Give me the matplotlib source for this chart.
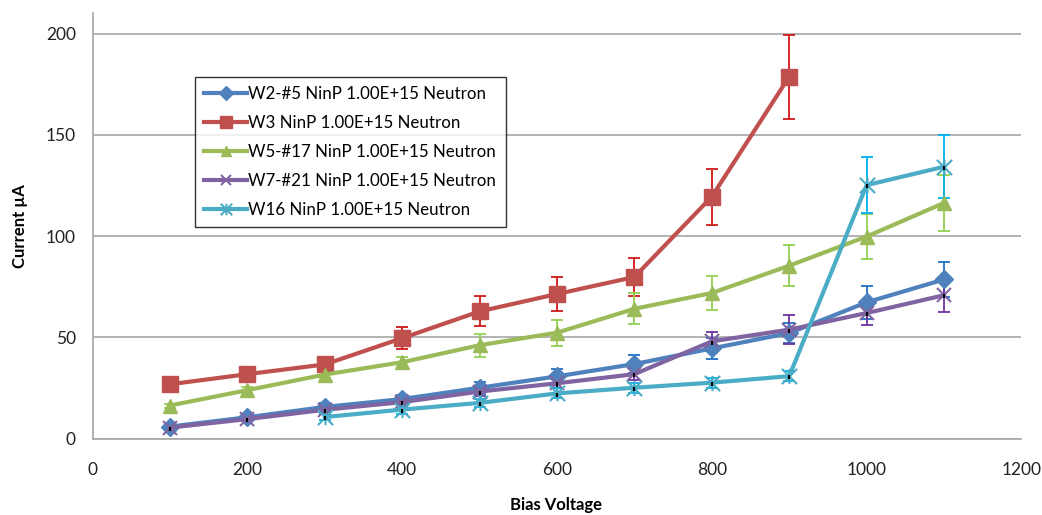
import matplotlib
matplotlib.use('Agg')
import matplotlib.pyplot as plt
import numpy as np
from matplotlib.path import Path

plt.rcParams['font.family'] = ['Lato', 'DejaVu Sans']

voltage = [100, 200, 300, 400, 500, 600, 700, 800, 900, 1000, 1100]

w2 = [5.9, 10.5, 15.6, 19.5, 25.1, 30.7, 36.8, 44.5, 52.1, 67.3, 78.6]
w2_err = [1, 1.5, 2, 2, 3, 3.5, 4.5, 5, 5, 8.2, 8.7]

w3 = [26.8, 31.8, 36.6, 49.6, 62.8, 71.4, 79.8, 119.5, 178.8, np.nan, np.nan]
w3_err = [1, 1.5, 2, 5.5, 7.4, 8.3, 9.3, 13.8, 20.8, np.nan, np.nan]

w5 = [16.3, 23.9, 31.6, 37.7, 46.1, 52.3, 64.1, 71.9, 85.4, 99.8, 116.4]
w5_err = [1, 1.5, 1.5, 2.5, 5.6, 6.4, 7.6, 8.5, 10, 11, 14]

w7 = [5.4, 9.6, 14.2, 18.0, 23.2, 27.3, 31.8, 48.0, 53.8, 62.0, 70.8]
w7_err = [1, 1, 1.5, 1.5, 2, 2.5, 3, 4.6, 7, 6, 8.4]

w16 = [np.nan, np.nan, 10.6, 14.3, 17.6, 22.3, 25.1, 27.6, 30.8, 125.2, 134.3]
w16_err = [np.nan, np.nan, 1.5, 2, 2, 2.5, 2.5, 2.5, 2.5, 14, 15.6]

labels = ['W2-#5 NinP 1.00E+15 Neutron',
          'W3 NinP 1.00E+15 Neutron',
          'W5-#17 NinP 1.00E+15 Neutron',
          'W7-#21 NinP 1.00E+15 Neutron',
          'W16 NinP 1.00E+15 Neutron']

# excel style asterisk: X plus vertical bar
star = Path([(0, -1), (0, 1), (-1, -1), (1, 1), (-1, 1), (1, -1)],
            [Path.MOVETO, Path.LINETO, Path.MOVETO, Path.LINETO, Path.MOVETO, Path.LINETO])

series = [
    (w2, w2_err, '#4F81BD', '#1F6FC6', 'D', 9.5),
    (w3, w3_err, '#C0504D', '#D01818', 's', 11.5),
    (w5, w5_err, '#9BBB59', '#92D050', '^', 10.5),
    (w7, w7_err, '#8064A2', '#7030A0', 'x', 10),
    (w16, w16_err, '#4BACC6', '#00B0F0', star, 11),
]

fig = plt.figure(figsize=(10.42, 5.15), dpi=100)
ax = fig.add_axes([0.0888, 0.1485, 0.8915, 0.8253])

x = np.array(voltage)
for (y, err, col, ecol, mk, ms), lab in zip(series, labels):
    y = np.array(y, dtype=float)
    ax.errorbar(x, y, yerr=err, fmt='none', ecolor=ecol, elinewidth=1.3,
                capsize=4.5, capthick=1.3, zorder=2)
    if mk == 'x' or mk is star:
        ax.plot(x, y, color=col, lw=3, marker=mk, ms=ms, mec=col, mew=1.5,
                label=lab, zorder=3)
        # small black error marks seen on these series
        ax.errorbar(x, y - 0.6, yerr=1.0, fmt='none', ecolor='black',
                    elinewidth=1.5, zorder=4)
    else:
        ax.plot(x, y, color=col, lw=3, marker=mk, ms=ms, mfc=col, mec=col,
                label=lab, zorder=3)

ax.set_xlim(0, 1200)
ax.set_ylim(0, 210)
ax.set_xticks(range(0, 1201, 200))
ax.set_yticks(range(0, 201, 50))
ax.grid(axis='y', color='#a6a6a6', lw=1.2)
ax.set_axisbelow(True)
for s in ['top', 'right']:
    ax.spines[s].set_visible(False)
for s in ['left', 'bottom']:
    ax.spines[s].set_color('#a6a6a6')
    ax.spines[s].set_linewidth(1.2)
ax.tick_params(axis='both', length=0, labelsize=12.5, colors='#222222')
ax.tick_params(axis='y', pad=12)
ax.tick_params(axis='x', pad=17)

fig.text(20 / 1042, 1 - 226 / 515, 'Current µA', rotation=90, fontsize=12,
         fontweight='bold', ha='center', va='center')
fig.text(556 / 1042, 1 - 505 / 515, 'Bias Voltage', fontsize=12,
         fontweight='bold', ha='center', va='center')

leg = ax.legend(loc='upper left', bbox_to_anchor=(195 / 1042, 1 - 77 / 515),
                bbox_transform=fig.transFigure, fontsize=12.2, frameon=True,
                fancybox=False, edgecolor='black', handlelength=2.5,
                handletextpad=0.1, labelspacing=0.76, borderpad=0.55,
                borderaxespad=0, markerscale=0.75)
leg.get_frame().set_linewidth(1.0)

fig.savefig('out.png', dpi=100)
